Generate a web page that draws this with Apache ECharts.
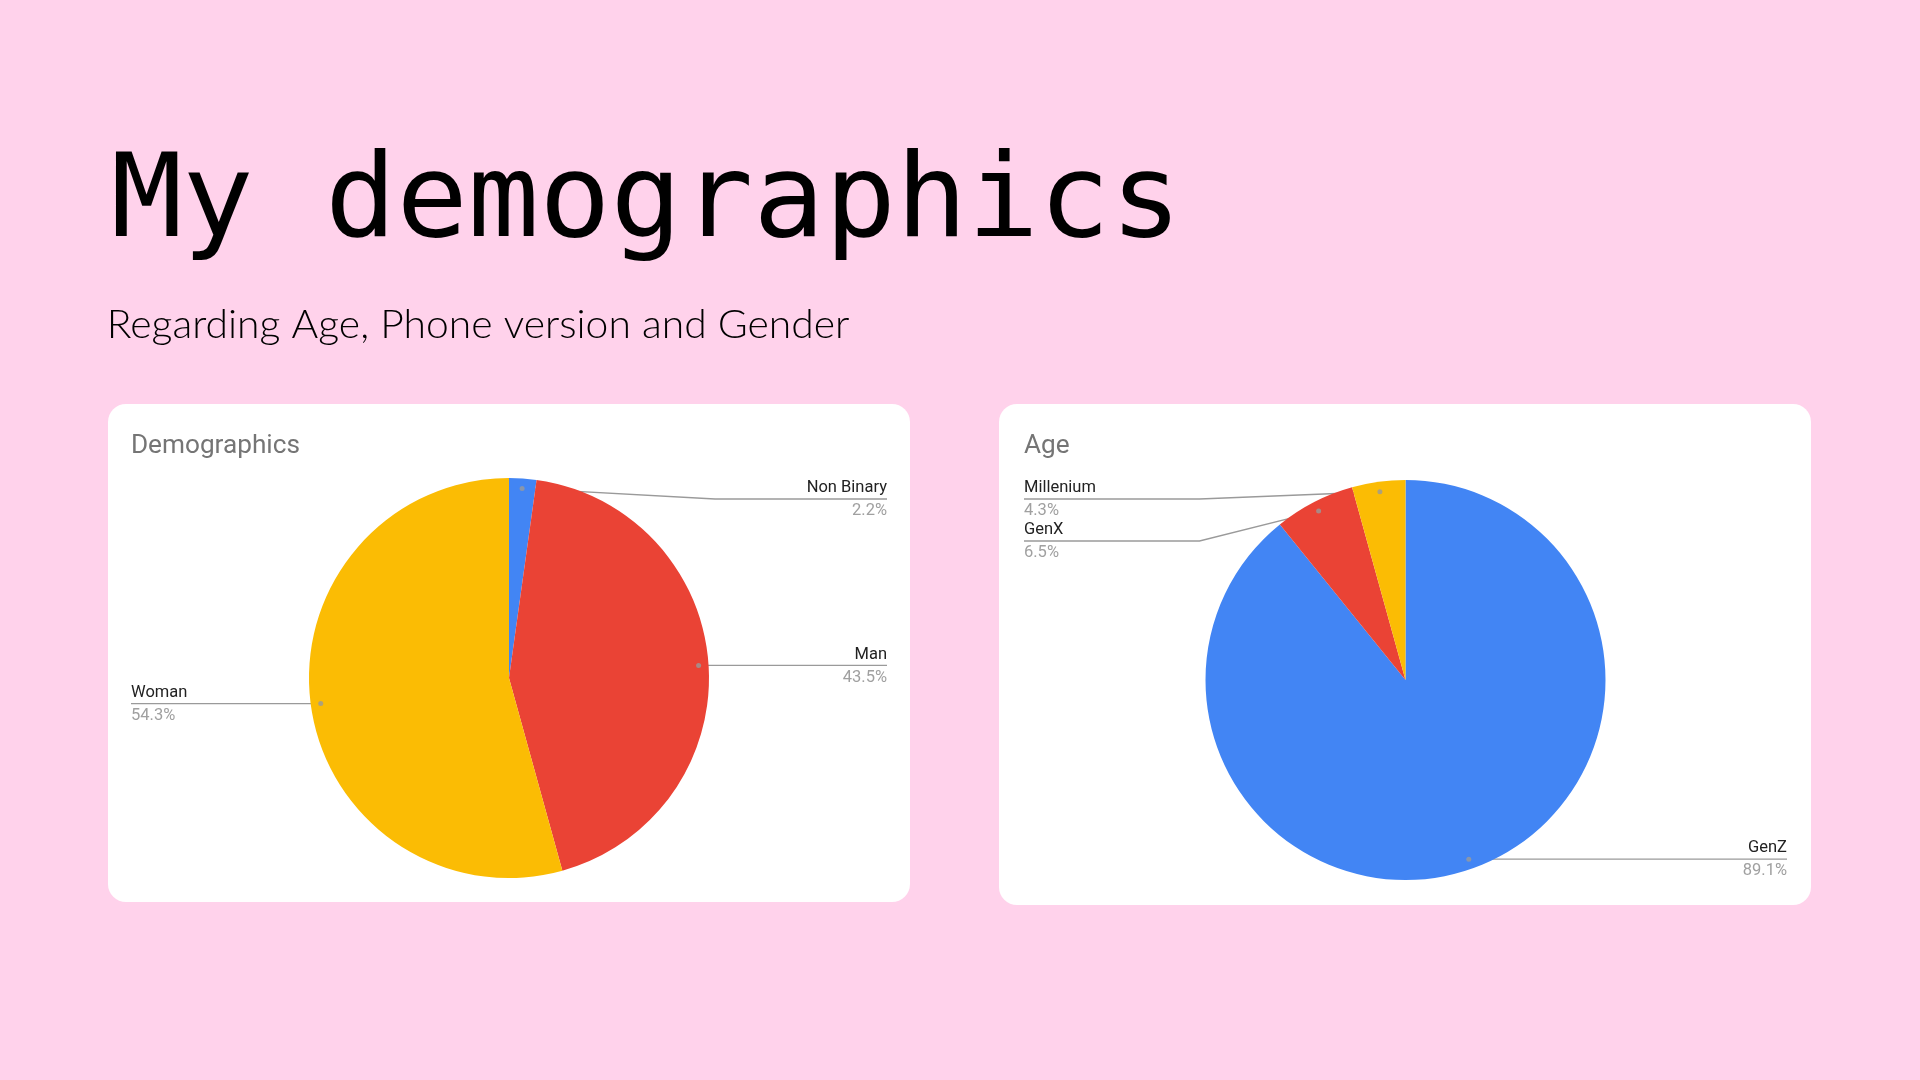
<!DOCTYPE html>
<html><head><meta charset="utf-8">
<script src="https://cdn.jsdelivr.net/npm/echarts@6/dist/echarts.min.js"></script>
<style>html,body{margin:0;padding:0;background:#FFD2EB}#c{width:1920px;height:1080px}</style>
</head><body><div id="c"></div>
<script>
// ---- data ----
const TITLE = 'My demographics';
const SUBTITLE = 'Regarding Age, Phone version and Gender';
const GENDER_TITLE = 'Demographics';
const GENDER_NAMES = ['Non Binary', 'Man', 'Woman'];
const GENDER_VALUES = [2.2, 43.5, 54.3];
const AGE_TITLE = 'Age';
const AGE_NAMES = ['GenZ', 'GenX', 'Millenium'];
const AGE_VALUES = [89.1, 6.5, 4.3];
const SLICE_COLORS = ['#4285F4', '#EA4335', '#FBBC04'];

// ---- layout ----
const BG = '#FFD2EB';
const PIE1 = { left: 131, top: 478, width: 756, height: 400, r: 200, labelTop: 478, labelBottom: 881 };
const PIE2 = { left: 1024, top: 480, width: 763, height: 400, r: 200, labelTop: 478, labelBottom: 881 };
const LABEL_GAP = 42;

const ctx = document.createElement('canvas').getContext('2d');
function fitText(text, family, weight, capH, inkLeft, inkRight, baseline, fill, fixedScale, erode) {
  ctx.font = weight + ' 100px ' + family;
  ctx.textBaseline = 'alphabetic';
  const ratio = ctx.measureText('H').actualBoundingBoxAscent / 100;
  const size = capH / ratio;
  const font = weight + ' ' + size + 'px ' + family;
  ctx.font = font;
  ctx.textBaseline = 'alphabetic';
  const m = ctx.measureText(text);
  const capA = ctx.measureText('H').actualBoundingBoxAscent;
  ctx.textBaseline = 'middle';
  const capB = ctx.measureText('H').actualBoundingBoxAscent;
  const off = capA - capB;
  const L = m.actualBoundingBoxLeft, R = m.actualBoundingBoxRight;
  const s = fixedScale || (inkRight - inkLeft) / (L + R);
  const style = { text: text, x: 0, y: 0, font: font, fill: fill, align: 'left', verticalAlign: 'middle' };
  if (erode) { style.stroke = BG; style.lineWidth = erode; }
  return {
    scale: s,
    el: { type: 'text', x: inkLeft + L * s, y: baseline - off, scaleX: s, z: 10, style: style }
  };
}

const title = fitText(TITLE, '"DejaVu Sans Mono"', 'normal', 84, 115, 1170, 236, '#000', null, 2.5);
const subtitle = fitText(SUBTITLE, 'Lato', '300', 27.6, 111, 850, 338, '#000');
const t1 = fitText(GENDER_TITLE, 'Roboto', 'normal', 18, 133, 299, 453, '#757575');
const t2 = fitText(AGE_TITLE, 'Roboto', 'normal', 18, 1024, 1100, 453, '#757575', t1.scale);

function center(L) { return [L.left + L.width / 2, L.top + L.height / 2]; }
function sum(a) { return a.reduce((s, v) => s + v, 0); }

// label line heights: anchor at the inner dot, pushed apart per side
function computeLineYs(L, values) {
  const c = center(L), cx = c[0], cy = c[1], total = sum(values);
  let acc = 0;
  const items = values.map((v, i) => {
    const mid = (acc + v / 2) / total * 2 * Math.PI; acc += v;
    return { i: i, x: cx + L.r * 0.95 * Math.sin(mid), y: cy - L.r * 0.95 * Math.cos(mid) };
  });
  const out = [];
  [true, false].forEach(left => {
    const list = items.filter(it => (it.x < cx) === left).sort((a, b) => a.y - b.y);
    let minY = L.labelTop + LABEL_GAP / 2;
    list.forEach(it => { it.ly = Math.max(it.y, minY); minY = it.ly + LABEL_GAP; });
    let maxY = L.labelBottom - LABEL_GAP / 2;
    for (let k = list.length - 1; k >= 0; k--) { list[k].ly = Math.min(list[k].ly, maxY); maxY = list[k].ly - LABEL_GAP; }
    list.forEach(it => { out[it.i] = it.ly; });
  });
  return out;
}

function makeLabelLayout(L, values) {
  const c = center(L), cx = c[0], cy = c[1], r = L.r;
  const lineYs = computeLineYs(L, values);
  return function (params) {
    const pts = params.labelLinePoints;
    const rect = params.labelRect;
    if (!pts) return {};
    const p0 = pts[0];
    const dot = [cx + (p0[0] - cx) * 0.95, cy + (p0[1] - cy) * 0.95];
    const lineY = lineYs[params.dataIndex];
    const isLeft = p0[0] < cx;
    const edgeX = isLeft ? rect.x : rect.x + rect.width;
    const bendX = Math.abs(dot[1] - lineY) < 4 ? dot[0] : (isLeft ? cx - r - 6 : cx + r + 6);
    return { y: lineY, verticalAlign: 'middle', labelLinePoints: [dot, [bendX, lineY], [edgeX, lineY]] };
  };
}

function pieSeries(L, names, values) {
  return {
    type: 'pie', left: L.left, top: L.top, width: L.width, height: L.height,
    center: ['50%', '50%'], radius: L.r, startAngle: 90, clockwise: true,
    avoidLabelOverlap: true, silent: true, z: 2,
    data: names.map((n, i) => ({ name: n, value: values[i], itemStyle: { color: SLICE_COLORS[i] } })),
    itemStyle: { borderWidth: 0 },
    label: {
      show: true, position: 'outer', alignTo: 'edge', edgeDistance: 0, minMargin: 0,
      formatter: '{n|{b}}\n{p|{c}%}',
      rich: {
        n: { fontFamily: 'Roboto', fontSize: 16.5, color: '#222222', lineHeight: 24 },
        p: { fontFamily: 'Roboto', fontSize: 16.5, color: '#A0A0A0', lineHeight: 22 }
      }
    },
    labelLine: { show: true, length: 1, length2: 0, lineStyle: { color: '#9A9A9A', width: 1.3 } },
    labelLayout: makeLabelLayout(L, values)
  };
}

function dotData(values) {
  let acc = 0;
  return values.map(v => { const m = acc + v / 2; acc += v; return [0.95, m]; });
}

const hiddenAxis = { show: false, axisLine: { show: false }, splitLine: { show: false }, axisTick: { show: false }, axisLabel: { show: false } };

const option = {
  backgroundColor: BG,
  animation: false,
  polar: [
    { center: center(PIE1), radius: PIE1.r },
    { center: center(PIE2), radius: PIE2.r }
  ],
  angleAxis: [
    Object.assign({ polarIndex: 0, type: 'value', min: 0, max: sum(GENDER_VALUES), startAngle: 90, clockwise: true }, hiddenAxis),
    Object.assign({ polarIndex: 1, type: 'value', min: 0, max: sum(AGE_VALUES), startAngle: 90, clockwise: true }, hiddenAxis)
  ],
  radiusAxis: [
    Object.assign({ polarIndex: 0, type: 'value', min: 0, max: 1 }, hiddenAxis),
    Object.assign({ polarIndex: 1, type: 'value', min: 0, max: 1 }, hiddenAxis)
  ],
  graphic: [
    { type: 'rect', z: 0, shape: { x: 108, y: 404, width: 802, height: 498, r: 18 }, style: { fill: '#FFFFFF' } },
    { type: 'rect', z: 0, shape: { x: 999, y: 404, width: 812, height: 501, r: 18 }, style: { fill: '#FFFFFF' } },
    title.el, subtitle.el, t1.el, t2.el
  ],
  series: [
    pieSeries(PIE1, GENDER_NAMES, GENDER_VALUES),
    pieSeries(PIE2, AGE_NAMES, AGE_VALUES),
    { type: 'scatter', coordinateSystem: 'polar', polarIndex: 0, data: dotData(GENDER_VALUES), symbolSize: 5, itemStyle: { color: '#9A9A9A' }, silent: true, z: 5 },
    { type: 'scatter', coordinateSystem: 'polar', polarIndex: 1, data: dotData(AGE_VALUES), symbolSize: 5, itemStyle: { color: '#9A9A9A' }, silent: true, z: 5 }
  ]
};

const chart = echarts.init(document.getElementById('c'), null, { renderer: 'canvas' });
chart.setOption(option);
</script>
</body></html>
